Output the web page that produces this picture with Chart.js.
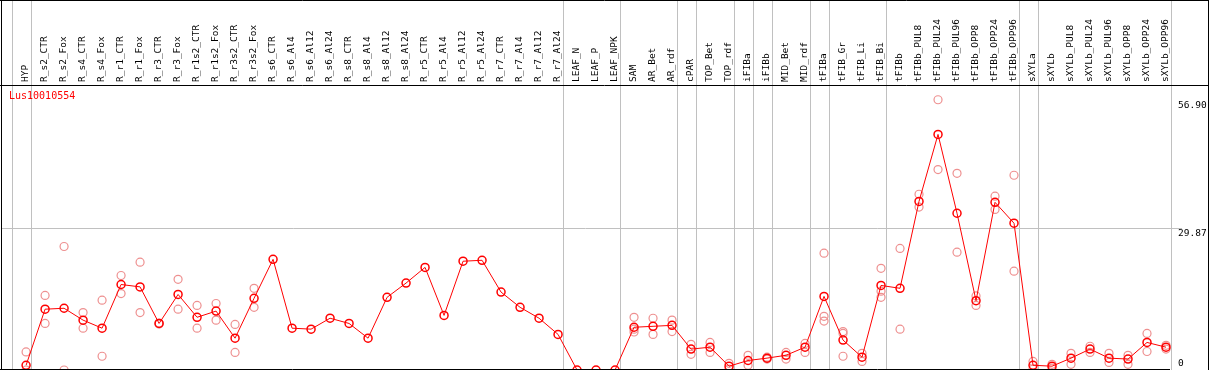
<!DOCTYPE html>
<html>
<head>
<meta charset="utf-8">
<script src="https://cdn.jsdelivr.net/npm/chart.js@4"></script>
<style>
  html, body { margin: 0; padding: 0; background: #fff; }
  #wrap { width: 1209px; height: 370px; }
</style>
</head>
<body>
<div id="wrap"><canvas id="chart1"></canvas></div>
<script>
// Data
const geneName = 'Lus10010554';

const categories = [
  'HYP', 'R_s2_CTR', 'R_s2_Fox', 'R_s4_CTR', 'R_s4_Fox', 'R_r1_CTR', 'R_r1_Fox', 'R_r3_CTR', 'R_r3_Fox',
  'R_r1s2_CTR', 'R_r1s2_Fox', 'R_r3s2_CTR', 'R_r3s2_Fox', 'R_s6_CTR', 'R_s6_Al4', 'R_s6_Al12', 'R_s6_Al24',
  'R_s8_CTR', 'R_s8_Al4', 'R_s8_Al12', 'R_s8_Al24', 'R_r5_CTR', 'R_r5_Al4', 'R_r5_Al12', 'R_r5_Al24',
  'R_r7_CTR', 'R_r7_Al4', 'R_r7_Al12', 'R_r7_Al24', 'LEAF_N', 'LEAF_P', 'LEAF_NPK', 'SAM', 'AR_Bet', 'AR_rdf',
  'cPAR', 'TOP_Bet', 'TOP_rdf', 'iFIBa', 'iFIBb', 'MID_Bet', 'MID_rdf', 'tFIBa', 'tFIB_Gr', 'tFIB_Li', 'tFIB_Bi',
  'tFIBb', 'tFIBb_PUL8', 'tFIBb_PUL24', 'tFIBb_PUL96', 'tFIBb_OPP8', 'tFIBb_OPP24', 'tFIBb_OPP96',
  'sXYLa', 'sXYLb', 'sXYLb_PUL8', 'sXYLb_PUL24', 'sXYLb_PUL96', 'sXYLb_OPP8', 'sXYLb_OPP24', 'sXYLb_OPP96'
];

// mean expression per sample
const meanValues = [
  1.0, 12.8, 13.0, 10.5, 8.8, 18.0, 17.5, 9.8, 15.9,
  11.1, 12.4, 6.7, 15.1, 23.3, 8.8, 8.6, 10.9,
  9.8, 6.7, 15.3, 18.3, 21.6, 11.5, 22.9, 23.1,
  16.4, 13.2, 10.9, 7.5, 0, 0, 0, 9.0, 9.2, 9.4,
  4.4, 4.8, 0.8, 2.0, 2.5, 3.1, 4.8, 15.5, 6.3, 2.7, 17.8,
  17.2, 35.5, 49.6, 33.0, 14.6, 35.3, 30.9,
  1.0, 0.8, 2.5, 4.4, 2.5, 2.3, 5.8, 4.8
];

// individual replicates per sample
const replicates = [
  [3.8, 0], [15.7, 9.8], [26.0, 0], [12.1, 8.8], [14.7, 2.9], [19.9, 16.1], [22.7, 12.1], [9.9, 9.7], [19.1, 12.8],
  [13.6, 8.8], [14.0, 10.5], [9.6, 3.7], [17.2, 13.2], [], [], [], [],
  [], [], [], [], [], [], [], [],
  [], [], [], [], [], [], [], [11.1, 8.6, 8.0], [10.9, 7.5], [10.5, 8.1],
  [5.4, 3.3], [5.8, 3.7], [1.4, 0.2], [3.1, 1.0], [2.7, 2.3], [3.7, 2.3], [5.6, 3.7], [24.6, 11.3, 10.3], [8.1, 7.7, 2.9], [3.5, 1.8], [21.4, 16.6, 15.3],
  [25.6, 8.6], [37.0, 34.3], [56.9, 42.2], [41.4, 24.8], [15.6, 13.6], [36.6, 33.8], [41.0, 20.8],
  [1.8, 0.2], [1.2, 0.4], [3.5, 1.2], [5.0, 3.7], [3.5, 1.6], [3.1, 1.2], [7.7, 3.9], [5.2, 4.4]
];

const yTicks = [0, 29.87, 56.90];

// group separators drawn after these sample indexes
const groupEnds = [-1, 0, 28, 31, 34, 35, 37, 38, 39, 41, 42, 45, 52, 53, 60];

const FONT = 'DejaVu Sans Mono';

const meanPoints = meanValues.map((v, i) => ({ x: i, y: v }));
const repPoints = [];
replicates.forEach((reps, i) => reps.forEach(v => repPoints.push({ x: i, y: v })));

function noPad(scale) {
  scale.paddingLeft = 0;
  scale.paddingRight = 0;
  scale.paddingTop = 0;
  scale.paddingBottom = 0;
}

// separators, frame, gene name and value labels
const decor = {
  id: 'decor',
  beforeDatasetsDraw(chart) {
    const { ctx, scales: { x } } = chart;
    ctx.save();
    ctx.strokeStyle = '#c0c0c0';
    ctx.lineWidth = 1;
    groupEnds.forEach(i => {
      const px = Math.round(x.getPixelForValue(i) + 4.5) + 0.5;
      ctx.beginPath();
      ctx.moveTo(px, 0);
      ctx.lineTo(px, chart.height);
      ctx.stroke();
    });
    ctx.restore();
  },
  afterDraw(chart) {
    const { ctx, chartArea: a, scales: { y } } = chart;
    ctx.save();
    ctx.strokeStyle = '#000';
    ctx.lineWidth = 1;
    ctx.beginPath();
    ctx.moveTo(0, 0.5); ctx.lineTo(chart.width, 0.5);
    ctx.moveTo(0, a.top + 0.5); ctx.lineTo(chart.width, a.top + 0.5);
    ctx.moveTo(1.5, 0); ctx.lineTo(1.5, chart.height);
    ctx.moveTo(chart.width - 0.5, 0); ctx.lineTo(chart.width - 0.5, chart.height);
    ctx.moveTo(0, chart.height - 0.5); ctx.lineTo(a.right, chart.height - 0.5);
    ctx.stroke();

    ctx.font = '10px ' + FONT;
    ctx.fillStyle = '#ff0000';
    ctx.textAlign = 'left';
    ctx.textBaseline = 'top';
    ctx.fillText(geneName, 9, a.top + 6);

    ctx.font = '9.5px ' + FONT;
    ctx.fillStyle = '#000';
    yTicks.forEach(v => {
      const py = y.getPixelForValue(v);
      const txt = v === 0 ? '0' : v.toFixed(2);
      if (v === 0) {
        ctx.textBaseline = 'bottom';
        ctx.fillText(txt, a.right + 8, py - 2);
      } else {
        ctx.textBaseline = 'top';
        ctx.fillText(txt, a.right + 8, py + 1);
      }
    });
    ctx.restore();
  }
};

const config = {
  type: 'line',
  data: {
    datasets: [{
      label: geneName,
      data: meanPoints,
      borderColor: '#ff0000',
      borderWidth: 1,
      backgroundColor: 'rgba(0,0,0,0)',
      pointRadius: 4,
      pointBorderWidth: 1.5,
      pointBorderColor: '#ff0000',
      pointBackgroundColor: 'rgba(0,0,0,0)',
      tension: 0,
      clip: false,
      order: 0
    }, {
      label: 'replicates',
      data: repPoints,
      showLine: false,
      borderColor: '#ee9090',
      pointRadius: 4,
      pointBorderWidth: 1.2,
      pointBorderColor: '#ee9090',
      pointBackgroundColor: 'rgba(0,0,0,0)',
      clip: false,
      order: 1
    }]
  },
  options: {
    responsive: true,
    maintainAspectRatio: false,
    animation: false,
    layout: { autoPadding: false, padding: { left: 1, right: 0, top: 0, bottom: 0 } },
    plugins: {
      legend: { display: false },
      tooltip: { enabled: false }
    },
    scales: {
      x: {
        type: 'linear',
        position: 'top',
        min: -1.32,
        max: 60.21,
        grid: { display: false, drawTicks: false },
        border: { display: false },
        afterBuildTicks: (scale) => {
          scale.ticks = categories.map((c, i) => ({ value: i }));
        },
        afterFit: (scale) => { scale.height = 85; noPad(scale); },
        ticks: {
          autoSkip: false,
          minRotation: 90,
          maxRotation: 90,
          padding: 3,
          labelOffset: 11,
          color: '#000',
          font: { family: FONT, size: 9.5 },
          callback: (v) => categories[v]
        }
      },
      y: {
        type: 'linear',
        position: 'right',
        min: 0,
        max: 60,
        afterBuildTicks: (scale) => {
          scale.ticks = yTicks.map(v => ({ value: v }));
        },
        afterFit: (scale) => { scale.width = 39; noPad(scale); },
        border: { display: false },
        grid: {
          color: (c) => (c.tick && c.tick.value === 29.87 ? '#c0c0c0' : 'rgba(0,0,0,0)'),
          tickLength: 12,
          lineWidth: 1
        },
        ticks: { display: false }
      }
    }
  },
  plugins: [decor]
};

const myChart = new Chart(document.getElementById('chart1'), config);
</script>
</body>
</html>
